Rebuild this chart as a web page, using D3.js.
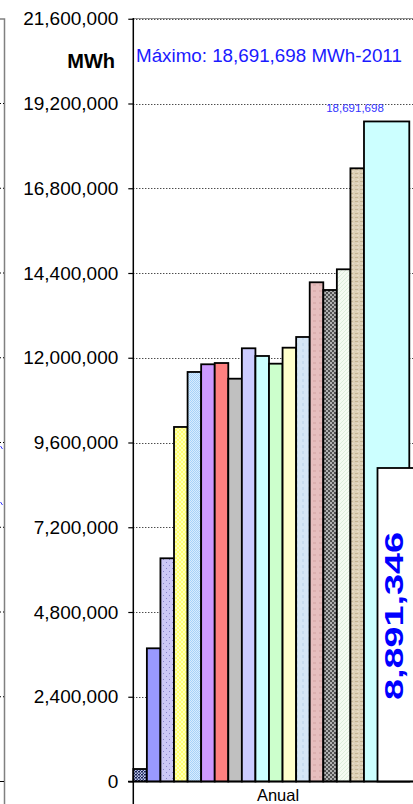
<!DOCTYPE html>
<html>
<head>
<meta charset="utf-8">
<script src="https://cdn.jsdelivr.net/npm/d3@7/dist/d3.min.js"></script>
<style>
  html, body { margin: 0; padding: 0; background: #fff; }
  svg { display: block; }
  text { font-family: Arial, "Liberation Sans", sans-serif; }
</style>
</head>
<body>
<svg id="chart" width="413" height="804"></svg>
<script>
// ---- data ----
const category = "Anual";
const years = [1994, 1995, 1996, 1997, 1998, 1999, 2000, 2001, 2002, 2003, 2004, 2005, 2006, 2007, 2008, 2009, 2010, 2011];
const values = [354000, 3772000, 6321000, 10040000, 11597000, 11815000, 11851000, 11407000, 12268000,
                12050000, 11832000, 12285000, 12588000, 14137000, 13919000, 14505000, 17365000, 18691698];
const yTicks = [0, 2400000, 4800000, 7200000, 9600000, 12000000, 14400000, 16800000, 19200000, 21600000];
const unitLabel = "MWh";
const maxLabel = "Máximo: 18,691,698 MWh-2011";
const maxValueLabel = "18,691,698";
const boxValue = 8891346;

// ---- styles (fills per bar) ----
const fills = ["url(#p1)", "#9999ff", "url(#p3)", "url(#p4)", "url(#p5)", "#cc99ff", "#ff8080", "#c0c0c0", "#ccccff",
               "#ccffff", "#ccffcc", "#ffffcc", "url(#p13)", "url(#p14)", "url(#p15)", "url(#p16)", "url(#p17)", "#ccffff"];

const svg = d3.select("#chart");
const defs = svg.append("defs");

function pat(id, w, h, bg, draw) {
  const p = defs.append("pattern").attr("id", id).attr("patternUnits", "userSpaceOnUse")
    .attr("width", w).attr("height", h);
  p.append("rect").attr("width", w).attr("height", h).attr("fill", bg);
  draw(p);
}
pat("p1", 3, 3, "#c8d0ec", p => {
  p.append("rect").attr("x", 0).attr("y", 0).attr("width", 2).attr("height", 1.5).attr("fill", "#1a2458");
  p.append("rect").attr("x", 1.5).attr("y", 1.5).attr("width", 1.5).attr("height", 1.5).attr("fill", "#2e3a78");
});
pat("p3", 6, 6, "#ccc8f6", p => {
  p.append("rect").attr("x", 1).attr("y", 1).attr("width", 1).attr("height", 1).attr("fill", "#8884c8");
  p.append("rect").attr("x", 4).attr("y", 4).attr("width", 1).attr("height", 1).attr("fill", "#8884c8");
});
pat("p4", 4, 4, "#ffff70", p => {
  p.append("path").attr("d", "M0,0L4,4M4,0L0,4").attr("stroke", "#ffffc0").attr("stroke-width", 0.9);
});
pat("p5", 2, 2, "#d8ecff", p => {
  p.append("rect").attr("width", 1).attr("height", 1).attr("fill", "#a8d2f8");
  p.append("rect").attr("x", 1).attr("y", 1).attr("width", 1).attr("height", 1).attr("fill", "#a8d2f8");
});
pat("p13", 6, 6, "#d6e6f6", p => {
  p.append("rect").attr("x", 2).attr("y", 1).attr("width", 2).attr("height", 3).attr("fill", "#c8dcf0");
});
pat("p14", 6, 6, "#e6bebe", p => {
  p.append("rect").attr("x", 1).attr("y", 2).attr("width", 3).attr("height", 2).attr("fill", "#dcb0b0");
});
pat("p15", 4, 4, "#505050", p => {
  p.append("rect").attr("width", 2).attr("height", 2).attr("fill", "#b0b0b0");
  p.append("rect").attr("x", 2).attr("y", 2).attr("width", 2).attr("height", 2).attr("fill", "#b0b0b0");
});
pat("p16", 4, 4, "#f4faf2", p => {
  p.append("path").attr("d", "M0,4L4,0").attr("stroke", "#d6ead6").attr("stroke-width", 0.8);
});
pat("p17", 5, 4, "#dcd0b8", p => {
  p.append("rect").attr("x", 0).attr("y", 1).attr("width", 3).attr("height", 1).attr("fill", "#c4b494");
  p.append("rect").attr("x", 2).attr("y", 3).attr("width", 2).attr("height", 1).attr("fill", "#e8dcc8");
});

// ---- scales ----
const x0 = 133.3, yBase = 781.5;
const y = d3.scaleLinear().domain([0, 21600000]).range([yBase, 18.75]);
const x = d3.scaleBand().domain(years).range([x0, x0 + years.length * 13.57]).padding(0);

// ---- left neighbour chart remnant ----
svg.append("path").attr("d", "M0,19H4.5V804").attr("fill", "none").attr("stroke", "#808080").attr("stroke-width", 1.5);
yTicks.slice(1, -1).forEach(t => {
  svg.append("line").attr("x1", 0).attr("x2", 4).attr("y1", y(t)).attr("y2", y(t))
    .attr("stroke", "#000").attr("stroke-dasharray", "1,2");
});
svg.append("line").attr("x1", 0).attr("x2", 4).attr("y1", yBase).attr("y2", yBase).attr("stroke", "#000");
[[446, 449], [502, 505]].forEach(([a, b]) => {
  svg.append("line").attr("x1", 0.5).attr("x2", 2.5).attr("y1", a).attr("y2", b).attr("stroke", "#3030ff").attr("stroke-width", 1);
});

// ---- plot border & gridlines ----
svg.append("line").attr("x1", x0).attr("x2", 413).attr("y1", 18.5).attr("y2", 18.5).attr("stroke", "#909090").attr("stroke-width", 1.2);
svg.append("g").selectAll("line").data(yTicks.slice(1)).join("line")
  .attr("x1", x0).attr("x2", 413).attr("y1", d => Math.round(y(d)) + 0.5).attr("y2", d => Math.round(y(d)) + 0.5)
  .attr("stroke", "#000").attr("stroke-width", 1).attr("stroke-dasharray", "1,2");

// ---- bars ----
const lastW = 45.3;
svg.append("g").selectAll("rect").data(values).join("rect")
  .attr("x", (d, i) => x(years[i]))
  .attr("y", d => y(d))
  .attr("width", (d, i) => i === values.length - 1 ? lastW : x.bandwidth())
  .attr("height", d => yBase - y(d))
  .attr("fill", (d, i) => fills[i])
  .attr("stroke", "#000").attr("stroke-width", 1.8);

// max value label
svg.append("text").attr("x", 355).attr("y", 111.5).attr("text-anchor", "middle")
  .attr("font-size", 11.5).attr("fill", "#3333ff").text(maxValueLabel);

// ---- white value box ----
svg.append("rect").attr("x", 377.5).attr("y", 468).attr("width", 40).attr("height", yBase - 468)
  .attr("fill", "#fff").attr("stroke", "#000").attr("stroke-width", 1.8);
svg.append("text").attr("transform", "translate(403,700) rotate(-90)")
  .attr("font-size", 25).attr("font-weight", "bold").attr("fill", "#0000ff")
  .attr("textLength", 168).attr("lengthAdjust", "spacingAndGlyphs")
  .text(d3.format(",")(boxValue));

// ---- axes ----
svg.append("line").attr("x1", 128).attr("x2", 413).attr("y1", yBase).attr("y2", yBase).attr("stroke", "#000").attr("stroke-width", 1.5);
const yAxis = svg.append("g").attr("transform", `translate(${x0},0)`)
  .call(d3.axisLeft(y).tickValues(yTicks).tickFormat(d3.format(",")).tickSize(5).tickPadding(10));
yAxis.select(".domain").remove();
yAxis.selectAll(".tick line").attr("stroke", "#000").attr("stroke-width", 1.2);
yAxis.selectAll(".tick text").attr("font-size", 19).attr("fill", "#000")
  .attr("font-family", "Arial, 'Liberation Sans', sans-serif");
svg.append("line").attr("x1", x0).attr("x2", x0).attr("y1", 18).attr("y2", 804).attr("stroke", "#000").attr("stroke-width", 1.5);

// category label
svg.append("text").attr("x", 278).attr("y", 801).attr("text-anchor", "middle")
  .attr("font-size", 16.5).attr("fill", "#000").text(category);

// unit label and max annotation
svg.append("text").attr("x", 115).attr("y", 67.5).attr("text-anchor", "end")
  .attr("font-size", 20).attr("font-weight", "bold").attr("fill", "#000").text(unitLabel);
svg.append("text").attr("x", 136).attr("y", 62).attr("font-size", 18.8).attr("fill", "#1a1aff").text(maxLabel);
</script>
</body>
</html>
